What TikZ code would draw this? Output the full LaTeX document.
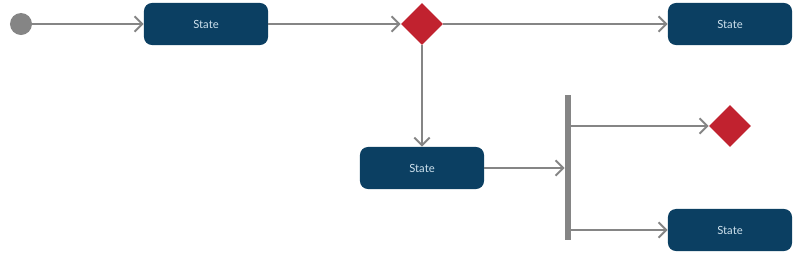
\documentclass[tikz,border=0pt]{standalone}
\usepackage{fontspec}
\setmainfont{Lato}
\usetikzlibrary{arrows.meta,shapes.geometric}

\definecolor{stateblue}{HTML}{0B3F62}
\definecolor{statetext}{HTML}{CFE2EE}
\definecolor{decred}{HTML}{C1222F}
\definecolor{flowgray}{HTML}{858585}

\begin{document}
\begin{tikzpicture}[x=0.025cm,y=0.025cm,
    statebox/.style={rectangle,rounded corners=2mm,fill=stateblue,minimum width=3.1cm,minimum height=1.05cm,inner sep=0pt,text=statetext,font=\fontsize{8}{9}\selectfont},
    decision/.style={diamond,fill=decred,minimum size=1.05cm,inner sep=0pt},
    flow/.style={draw=flowgray,line width=1.4pt,-{Straight Barb[length=5.5pt,width=11pt]}}]
    \useasboundingbox (0,0) rectangle (800,252);

    % initial node and top row
    \node[circle,fill=flowgray,minimum size=0.55cm,inner sep=0pt] (start) at (21,228) {};
    \node[statebox] (s1) at (206,228) {State};
    \node[decision] (d1) at (422,228) {};
    \node[statebox] (s2) at (730,228) {State};

    % lower part
    \node[statebox] (s3) at (422,84) {State};
    \node[rectangle,fill=flowgray,minimum width=0.15cm,minimum height=3.625cm,inner sep=0pt] (fork) at (568,84.5) {};
    \node[decision] (d2) at (730,126) {};
    \node[statebox] (s4) at (730,22) {State};

    \draw[flow] (start) -- (s1);
    \draw[flow] (s1) -- (d1);
    \draw[flow] (d1) -- (s2);
    \draw[flow] (d1) -- (s3);
    \draw[flow] (s3) -- (s3 -| fork.west);
    \draw[flow] (fork.east |- d2) -- (d2);
    \draw[flow] (fork.east |- s4) -- (s4);
\end{tikzpicture}
\end{document}
